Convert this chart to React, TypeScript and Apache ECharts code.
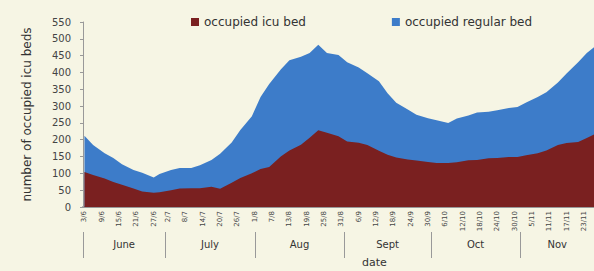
import React, { useEffect, useRef } from "react";
import * as echarts from "echarts";

// day index: days since 1 June (1 June = 0)
const days = [2, 5, 9, 12, 15, 19, 22, 26, 28, 32, 35, 39, 42, 46, 49, 53, 56, 60, 63, 66, 70, 73, 77, 80, 83, 86, 90, 93, 97, 100, 104, 107, 110, 114, 117, 121, 124, 128, 131, 135, 138, 142, 145, 149, 152, 155, 159, 162, 166, 169, 173, 176, 179];
const icuBeds = [104, 95, 85, 74, 66, 55, 46, 42, 44, 50, 55, 56, 56, 60, 54, 72, 86, 100, 113, 119, 150, 168, 185, 206, 228, 221, 210, 195, 191, 184, 167, 155, 147, 141, 138, 134, 131, 131, 133, 139, 140, 145, 146, 149, 149, 154, 160, 168, 184, 190, 193, 205, 218];
const regularBeds = [108, 89, 75, 72, 61, 55, 56, 46, 54, 60, 61, 60, 68, 80, 104, 120, 143, 170, 214, 247, 259, 268, 262, 252, 254, 237, 242, 235, 224, 214, 207, 183, 163, 149, 136, 130, 127, 119, 130, 133, 141, 138, 142, 145, 148, 157, 167, 173, 186, 207, 237, 253, 260];

const months = ["June", "July", "Aug", "Sept", "Oct", "Nov"];
const monthNumbers = [6, 7, 8, 9, 10, 11];
const monthStarts = [0, 30, 61, 92, 122, 153, 183];
const dayTicks = [2, 8, 14, 20, 26, 31, 37, 43, 49, 55, 61, 67, 73, 79, 85, 91, 97, 103, 109, 115, 121, 127, 133, 139, 145, 151, 157, 163, 169, 175];
const yTicks = [0, 50, 100, 150, 200, 250, 300, 350, 400, 450, 500, 550];

const X_MIN = 1.5;
const X_MAX = 178.5;

function dayLabel(d: number): string {
  let m = 0;
  for (let i = 0; i < monthStarts.length - 1; i++) {
    if (d >= monthStarts[i]) m = i;
  }
  const dom = Math.round(d - monthStarts[m]) + 1;
  return dom + "/" + monthNumbers[m];
}

export default function App() {
  const ref = useRef<HTMLDivElement>(null);
  useEffect(() => {
    if (!ref.current) return;
    const chart = echarts.init(ref.current, undefined, { renderer: "svg" });
    const font = "DejaVu Sans";
    const boundaries = [X_MIN, ...monthStarts.slice(1, -1), X_MAX];
    const mids: number[] = [];
    for (let i = 0; i < boundaries.length - 1; i++) mids.push((boundaries[i] + boundaries[i + 1]) / 2);
    // stacked top edge (icu + regular), drawn behind the icu area
    const totals = days.map((d, i) => [d, icuBeds[i] + regularBeds[i]]);
    chart.setOption({
      animation: false,
      backgroundColor: "#f6f5e4",
      textStyle: { fontFamily: font },
      title: {
        text: "date",
        left: 362,
        top: 257,
        padding: 0,
        textStyle: { fontSize: 11, fontWeight: "normal", color: "#333", fontFamily: font },
      },
      legend: {
        left: 186,
        top: 11,
        icon: "rect",
        itemWidth: 8,
        itemHeight: 8,
        itemGap: 86,
        textStyle: { fontSize: 12, color: "#333", fontFamily: font },
        data: ["occupied icu bed", "occupied regular bed"],
      },
      grid: { left: 83, right: 0, top: 22, bottom: 64 },
      xAxis: [
        {
          type: "value",
          min: X_MIN,
          max: X_MAX,
          position: "bottom",
          splitLine: { show: false },
          axisLine: { show: true, lineStyle: { color: "#999", width: 2 } },
          axisTick: { show: false },
          axisLabel: {
            customValues: dayTicks,
            rotate: 90,
            fontSize: 7,
            color: "#444",
            margin: 4,
            formatter: (v: number) => dayLabel(v),
          },
        },
        {
          type: "value",
          min: X_MIN,
          max: X_MAX,
          position: "bottom",
          offset: 25,
          splitLine: { show: false },
          axisLine: { show: false },
          axisTick: {
            show: true,
            customValues: boundaries,
            length: 26,
            lineStyle: { color: "#999" },
          },
          axisLabel: {
            customValues: mids,
            fontSize: 10,
            color: "#333",
            margin: 7,
            formatter: (v: number) => {
              const i = mids.findIndex((m) => Math.abs(m - v) < 0.01);
              return i >= 0 ? months[i] : "";
            },
          },
        },
      ],
      yAxis: {
        type: "value",
        min: 0,
        max: 550,
        interval: 50,
        name: "number of occupied icu beds",
        nameLocation: "middle",
        nameGap: 50,
        nameTextStyle: { fontSize: 12, color: "#333", fontFamily: font },
        splitLine: { show: false },
        axisLine: { show: true, lineStyle: { color: "#999" } },
        axisTick: { show: true, length: 3, lineStyle: { color: "#999" } },
        axisLabel: {
          fontSize: 10,
          color: "#444",
          margin: 12,
          customValues: yTicks,
        },
      },
      series: [
        {
          name: "occupied icu bed",
          type: "line",
          showSymbol: false,
          symbol: "none",
          xAxisIndex: 0,
          z: 3,
          color: "#7a2020",
          lineStyle: { width: 0 },
          areaStyle: { color: "#7a2020", opacity: 1 },
          data: days.map((d, i) => [d, icuBeds[i]]),
        },
        {
          name: "occupied regular bed",
          type: "line",
          showSymbol: false,
          symbol: "none",
          xAxisIndex: 0,
          z: 2,
          color: "#3d7cc9",
          lineStyle: { width: 0 },
          areaStyle: { color: "#3d7cc9", opacity: 1 },
          data: totals,
        },
      ],
    });
    return () => chart.dispose();
  }, []);
  return (
    <div
      ref={ref}
      style={{ position: "fixed", left: 0, top: 0, width: 594, height: 271 }}
    />
  );
}
